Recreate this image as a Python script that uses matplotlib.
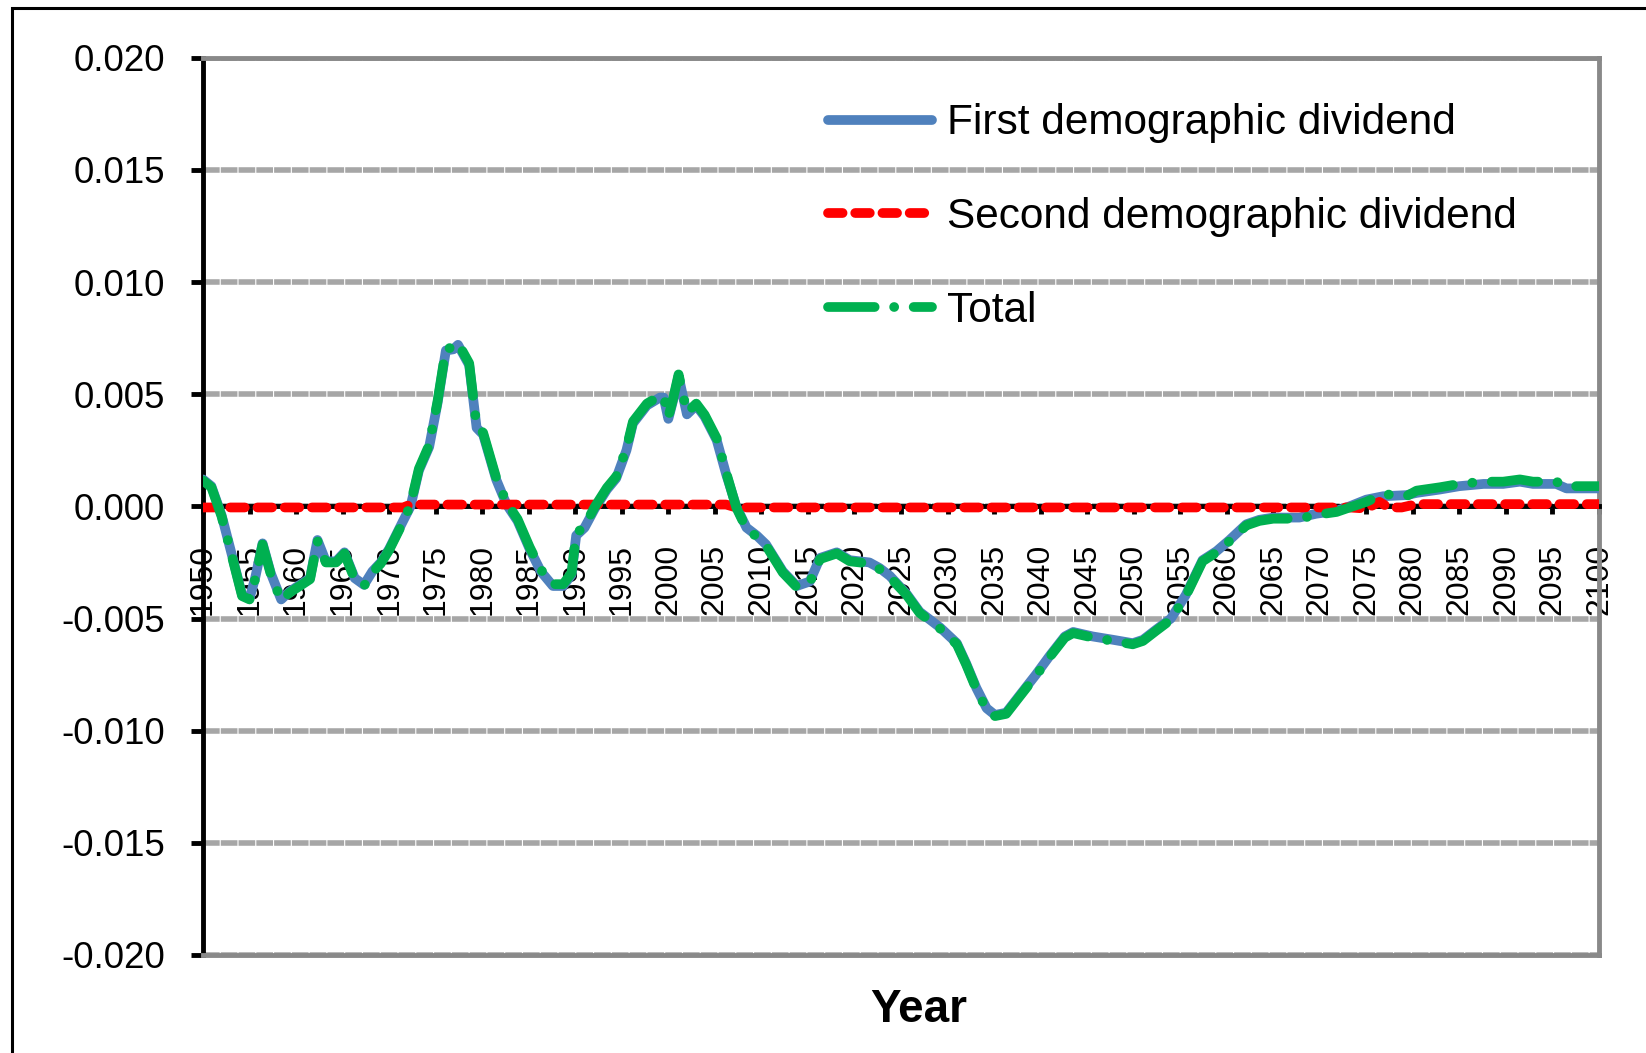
import matplotlib
matplotlib.use("Agg")
import matplotlib.pyplot as plt
import matplotlib.transforms as mtransforms
from matplotlib.patches import Rectangle

plt.rcParams['font.family'] = ['Liberation Sans', 'DejaVu Sans']

# values (in units of 0.001)
years = [1950.0, 1950.9, 1952.0, 1953.0, 1954.2, 1955.0, 1955.6, 1956.4, 1957.3, 1958.4,
         1959.3, 1960.4, 1961.5, 1962.3, 1963.2, 1964.3, 1965.2, 1966.3, 1967.3, 1968.2,
         1969.1, 1970.0, 1971.5, 1972.3, 1973.2, 1974.3, 1975.2, 1976.1, 1976.9, 1977.4,
         1978.6, 1979.4, 1980.1, 1981.5, 1982.6, 1983.8, 1985.1, 1986.3, 1987.6, 1988.7,
         1989.6, 1990.1, 1991.0, 1992.1, 1993.4, 1994.4, 1995.5, 1996.2, 1997.7, 1999.1,
         1999.5, 2000.0, 2000.5, 2001.1, 2002.0, 2003.0, 2003.9, 2005.2, 2006.2, 2007.3,
         2008.4, 2009.5, 2010.5, 2012.3, 2013.8, 2015.2, 2016.3, 2018.1, 2019.5, 2021.6,
         2022.7, 2023.8, 2025.6, 2027.0, 2029.2, 2031.0, 2032.0, 2033.1, 2034.2, 2035.1,
         2036.3, 2037.8, 2039.5, 2041.0, 2042.6, 2043.5, 2045.6, 2047.8, 2049.9, 2051.0,
         2052.4, 2054.0, 2055.6, 2057.4, 2058.9, 2060.3, 2062.1, 2063.5, 2065.0, 2067.8,
         2069.6, 2071.8, 2073.2, 2075.0, 2076.8, 2079.3, 2080.4, 2082.9, 2085.0, 2087.6,
         2089.7, 2091.5, 2092.9, 2095.4, 2096.5, 2100.0]

first = [1.2, 0.9, -0.4, -2.0, -3.95, -4.1, -3.2, -1.65, -3.0, -4.15,
         -3.8, -3.5, -3.2, -1.5, -2.45, -2.45, -2.05, -3.2, -3.5, -2.9,
         -2.5, -1.9, -0.65, 0.0, 1.6, 2.65, 4.6, 6.95, 7.0, 7.2,
         6.3, 3.5, 3.2, 1.2, 0.1, -0.65, -1.9, -2.9, -3.55, -3.55,
         -3.05, -1.3, -0.95, -0.1, 0.75, 1.25, 2.5, 3.7, 4.5, 4.85,
         4.85, 3.9, 4.7, 5.8, 4.1, 4.5, 4.0, 2.95, 1.45, 0.0,
         -0.95, -1.3, -1.7, -2.9, -3.55, -3.35, -2.3, -2.05, -2.4, -2.5,
         -2.75, -3.1, -3.9, -4.7, -5.4, -6.1, -7.0, -8.1, -9.0, -9.3,
         -9.2, -8.4, -7.5, -6.65, -5.8, -5.6, -5.8, -5.95, -6.1, -5.95,
         -5.5, -5.0, -3.95, -2.4, -2.0, -1.5, -0.8, -0.6, -0.5, -0.5,
         -0.33, -0.2, 0.0, 0.3, 0.45, 0.5, 0.6, 0.75, 0.9, 1.0,
         1.0, 1.1, 1.0, 1.0, 0.8, 0.8]

second_years = [1950, 1971.5, 1972.3, 2006.2, 2007.3, 2073.2, 2075.0, 2076.4, 2077.4,
                2078.8, 2080.4, 2100]
second = [-0.05, -0.05, 0.08, 0.08, -0.05, -0.05, -0.1, 0.2, -0.05, -0.05, 0.1, 0.1]

total = [1.15, 0.85, -0.45, -2.05, -4.0, -4.15, -3.25, -1.7, -3.05, -4.2,
         -3.85, -3.55, -3.25, -1.55, -2.5, -2.5, -2.1, -3.25, -3.55, -2.95,
         -2.55, -1.95, -0.7, 0.08, 1.68, 2.73, 4.68, 7.03, 7.08, 7.28,
         6.38, 3.58, 3.28, 1.28, 0.18, -0.57, -1.82, -2.82, -3.47, -3.47,
         -2.97, -1.22, -0.87, -0.02, 0.83, 1.33, 2.58, 3.78, 4.58, 4.93,
         4.93, 3.98, 4.78, 5.88, 4.18, 4.58, 4.08, 3.03, 1.53, -0.05,
         -1.0, -1.35, -1.75, -2.95, -3.6, -3.4, -2.35, -2.1, -2.45, -2.55,
         -2.8, -3.15, -3.95, -4.75, -5.45, -6.15, -7.05, -8.15, -9.05, -9.35,
         -9.25, -8.45, -7.55, -6.7, -5.85, -5.65, -5.85, -6.0, -6.15, -6.0,
         -5.55, -5.05, -4.0, -2.45, -2.05, -1.55, -0.85, -0.65, -0.55, -0.55,
         -0.38, -0.25, -0.05, 0.2, 0.55, 0.45, 0.7, 0.85, 1.0, 1.1,
         1.1, 1.2, 1.1, 1.1, 0.9, 0.9]

ytick_vals = [-0.020, -0.015, -0.010, -0.005, 0.000, 0.005, 0.010, 0.015, 0.020]
ytick_labels = ['-0.020', '-0.015', '-0.010', '-0.005', '0.000', '0.005', '0.010', '0.015', '0.020']
xtick_years = list(range(1950, 2101, 5))

scale = 0.001
fig = plt.figure(figsize=(16.46, 10.53), dpi=100)
ax = fig.add_axes([203 / 1646, 1 - 955 / 1053, 1396 / 1646, 897.3 / 1053])

lw = 7
ax.plot(years, [v * scale for v in first], color='#4F81BD', lw=lw,
        solid_capstyle='round', solid_joinstyle='round', zorder=4,
        label='First demographic dividend')
ax.plot(second_years, [v * scale for v in second], color='#FF0000', lw=lw,
        linestyle=(0, (1.5, 1.3)), dash_capstyle='round', zorder=5,
        label='Second demographic dividend')
ax.plot(years, [v * scale for v in total], color='#00B050', lw=lw,
        linestyle=(0, (4.8, 2.0, 0.01, 2.0)), dash_capstyle='round',
        dash_joinstyle='round', zorder=6, label='Total')

ax.set_xlim(1950, 2100)
ax.set_ylim(-0.020, 0.020)
ax.set_yticks(ytick_vals)
ax.set_yticklabels(ytick_labels)
ax.set_xticks(xtick_years)
ax.set_xticklabels([str(y) for y in xtick_years])

ax.tick_params(axis='y', direction='out', length=8.5, width=3.5, pad=19, labelsize=26.5)
ax.tick_params(axis='x', direction='out', length=6, width=3.5, pad=21,
               labelsize=23, labelrotation=90)

# shift year labels a little right, as in the original
offset = mtransforms.ScaledTranslation(9 / 100, 0, fig.dpi_scale_trans)
for t in ax.xaxis.get_major_ticks():
    t.label1.set_transform(t.label1.get_transform() + offset)

ax.grid(axis='y', color='#A6A6A6', lw=4, linestyle=(0, (3.0, 0.2)), zorder=0)
ax.set_axisbelow(True)

border = '#898989'
ax.spines['bottom'].set_position(('data', 0))
ax.spines['bottom'].set_color('black')
ax.spines['bottom'].set_linewidth(3.5)
ax.spines['bottom'].set_zorder(3)
ax.spines['left'].set_color('black')
ax.spines['left'].set_linewidth(3.5)
ax.spines['top'].set_color(border)
ax.spines['top'].set_linewidth(3.5)
ax.spines['right'].set_color(border)
ax.spines['right'].set_linewidth(3.5)
ax.axhline(-0.020, color=border, lw=3.5, zorder=3, clip_on=False)

ax.legend(loc='upper left', bbox_to_anchor=(0.448, 0.949), frameon=False,
          fontsize=30.5, handlelength=2.45, handletextpad=0.35, labelspacing=1.27,
          borderpad=0, borderaxespad=0)

fig.text(918.6 / 1646, 1 - 1010 / 1053, 'Year', fontsize=33, fontweight='bold',
         ha='center', va='center')

fig.patches.append(Rectangle((12 / 1646, -0.1), 1.2, 1.1 - 8 / 1053,
                             transform=fig.transFigure, fill=False,
                             edgecolor='black', lw=2.2))

fig.savefig('out.png', dpi=100)
